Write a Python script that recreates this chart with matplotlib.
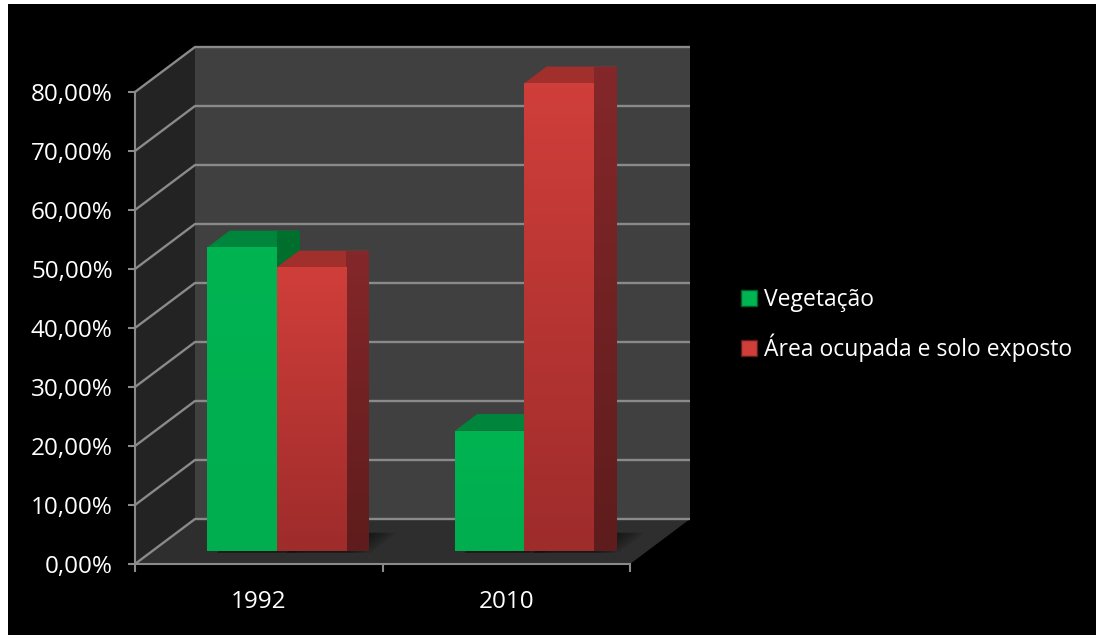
import numpy as np
import matplotlib
matplotlib.use("Agg")
import matplotlib.pyplot as plt
from matplotlib.patches import Polygon, Rectangle, Patch
from matplotlib.colors import LinearSegmentedColormap

# ── Data ──────────────────────────────────────────────────────────────────────
years = ["1992", "2010"]
vegetacao = [51.4, 20.3]
area_ocupada = [48.0, 79.2]
series_names = ["Vegetação", "Área ocupada e solo exposto"]
y_ticks = [0, 10, 20, 30, 40, 50, 60, 70, 80]

# ── Style ─────────────────────────────────────────────────────────────────────
W, H, DPI = 1096, 635, 100
DEPTH_PX = (60, 45)            # oblique shift of the back wall, in pixels
BAR_FRONT, BAR_BACK = 0.3, 0.67
BAR_W = 0.28

SIDE_WALL = "#232323"
BACK_WALL = "#404040"
FLOOR = "#2e2e2e"
GRID = "#8a8a8a"

GREEN = {"front": ("#00b452", "#00ad4f"), "top": "#00853c", "side": ("#00702f", "#006128")}
RED = {"front": ("#d03e3a", "#9e2c2b"), "top": "#a12f2c", "side": ("#84272a", "#5f1c1c")}

plt.rcParams["font.family"] = ["Open Sans", "DejaVu Sans"]

fig = plt.figure(figsize=(W / DPI, H / DPI), dpi=DPI, facecolor="black")
ax = fig.add_axes([135 / W, 71 / H, 495 / W, 472 / H])
n = len(years)
ymax = y_ticks[-1]
ax.set_xlim(0, n)
ax.set_ylim(0, ymax)
ax.set_facecolor("none")

# depth vector expressed in data units
p0 = ax.transData.transform((0, 0))
p1 = ax.transData.transform((1, 1))
DX = DEPTH_PX[0] / (p1[0] - p0[0])
DY = DEPTH_PX[1] / (p1[1] - p0[1])


def proj(x, y, d):
    return (x + d * DX, y + d * DY)


def face(pts, color, z):
    p = Polygon(pts, closed=True, facecolor=color, edgecolor="none",
                zorder=z, clip_on=False)
    ax.add_patch(p)
    return p


def gradient(patch, c_top, c_bot, z):
    cmap = LinearSegmentedColormap.from_list("g", [c_bot, c_top])
    bb = patch.get_path().get_extents(patch.get_patch_transform())
    img = ax.imshow(np.linspace(0, 1, 64).reshape(-1, 1), cmap=cmap,
                    extent=(bb.x0, bb.x1, bb.y0, bb.y1), origin="lower",
                    aspect="auto", zorder=z, clip_on=False, interpolation="bilinear")
    img.set_clip_path(patch)


# ── Walls and floor ───────────────────────────────────────────────────────────
face([proj(0, 0, 0), proj(0, ymax, 0), proj(0, ymax, 1), proj(0, 0, 1)], SIDE_WALL, 0)
face([proj(0, 0, 1), proj(0, ymax, 1), proj(n, ymax, 1), proj(n, 0, 1)], BACK_WALL, 0)
face([proj(0, 0, 0), proj(n, 0, 0), proj(n, 0, 1), proj(0, 0, 1)], FLOOR, 0)

for t in y_ticks:
    xs, ys = zip(proj(0, t, 0), proj(0, t, 1), proj(n, t, 1))
    ax.plot(xs, ys, color=GRID, lw=1.7, clip_on=False, zorder=1,
            solid_capstyle="butt")

# ── Bars ──────────────────────────────────────────────────────────────────────
z = 3
for i in range(n):
    for j, (vals, col) in enumerate([(vegetacao, GREEN), (area_ocupada, RED)]):
        v = vals[i]
        x0 = i + 0.5 - BAR_W + j * BAR_W
        x1 = x0 + BAR_W
        # soft shadow on the floor, built from a few translucent layers
        for k in range(6):
            s = 0.02 + 0.018 * k
            face([proj(x0 + 0.05, 0, BAR_FRONT - 0.05), proj(x1 + s, 0, BAR_FRONT - 0.05),
                  proj(x1 + s, 0, BAR_BACK + 0.02), proj(x0 + 0.05, 0, BAR_BACK + 0.02)],
                 (0, 0, 0, 0.09), 2)
        face([proj(x0, v, BAR_FRONT), proj(x1, v, BAR_FRONT),
              proj(x1, v, BAR_BACK), proj(x0, v, BAR_BACK)], col["top"], z)
        side = face([proj(x1, 0, BAR_FRONT), proj(x1, v, BAR_FRONT),
                     proj(x1, v, BAR_BACK), proj(x1, 0, BAR_BACK)], col["side"][0], z)
        gradient(side, col["side"][0], col["side"][1], z + 0.1)
        fx, fy = proj(x0, 0, BAR_FRONT)
        bar = ax.bar(fx, v, width=BAR_W, bottom=fy, align="edge",
                     color=col["front"][0], zorder=z + 0.2)[0]
        bar.set_clip_on(False)
        gradient(bar, col["front"][0], col["front"][1], z + 0.3)
        z += 1

ax.set_xlim(0, n)
ax.set_ylim(0, ymax)

# ── Axes, ticks and labels ────────────────────────────────────────────────────
for s in ["top", "right"]:
    ax.spines[s].set_visible(False)
for s in ["left", "bottom"]:
    ax.spines[s].set_color(GRID)
    ax.spines[s].set_linewidth(1.5)
    ax.spines[s].set_zorder(20)

ax.set_yticks(y_ticks)
ax.set_yticklabels([f"{t:.2f}%".replace(".", ",") for t in y_ticks])
ax.tick_params(axis="y", colors=GRID, labelcolor="white", labelsize=17.5,
               length=5, width=1.5, pad=11)
ax.set_xticks(range(n + 1))
ax.set_xticklabels([])
ax.set_xticks([i + 0.5 for i in range(n)], minor=True)
ax.set_xticklabels(years, minor=True)
ax.tick_params(axis="x", which="major", colors=GRID, length=6, width=1.5)
ax.tick_params(axis="x", which="minor", length=0, labelcolor="white",
               labelsize=17.5, pad=19)

# ── Legend ────────────────────────────────────────────────────────────────────
handles = [Patch(facecolor=GREEN["front"][0], edgecolor=GREEN["side"][1]),
           Patch(facecolor=RED["front"][0], edgecolor=RED["side"][1])]
fig.legend(handles, series_names, loc="center left",
           bbox_to_anchor=(741 / W, 1 - 325 / H), frameon=False,
           fontsize=16.5, labelcolor="white", handlelength=0.7,
           handleheight=0.7, handletextpad=0.3, labelspacing=0.95,
           borderpad=0, borderaxespad=0)

# white page margin along the top and left edges
fig.add_artist(Rectangle((0, 1 - 4 / H), 1, 4 / H, transform=fig.transFigure,
                         facecolor="white", edgecolor="none", zorder=30))
fig.add_artist(Rectangle((0, 0), 8 / W, 1, transform=fig.transFigure,
                         facecolor="white", edgecolor="none", zorder=30))

fig.savefig("out.png", dpi=DPI, facecolor="black")
